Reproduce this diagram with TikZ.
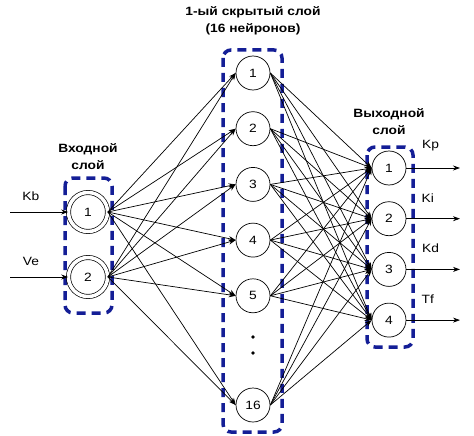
\documentclass[tikz,border=0pt]{standalone}
\usepackage{fontspec}
\setmainfont{Liberation Sans}[FakeStretch=1.15]
\usetikzlibrary{arrows.meta,positioning}
\definecolor{layerblue}{RGB}{20,30,150}

\begin{document}
\begin{tikzpicture}[
    x=1pt, y=-1pt,
    font=\fontsize{12}{14}\selectfont,
    inneuron/.style={circle, draw, double, double distance=3.5pt, minimum size=39pt, inner sep=0pt, line width=0.7pt},
    neuron/.style={circle, draw, minimum size=34pt, inner sep=0pt, line width=0.7pt},
    layerbox/.style={draw=layerblue, line width=3.5pt, dash pattern=on 9pt off 6pt, rounded corners=8pt},
    title/.style={font=\fontsize{12}{17}\selectfont\bfseries, align=center},
    arrow/.style={-{Stealth[length=7pt,width=5pt]}, line width=0.7pt}
]
\useasboundingbox (0,0) rectangle (474,436);

% layer boxes
\draw[layerbox] (65,178) rectangle (112,313);
\draw[layerbox] (223,50) rectangle (282,432);
\draw[layerbox] (367,147) rectangle (413,347);

% titles
\node[title] (tin) at (88,157) {Входной\\слой};
\node[title] (thid) at (253,21) {1-ый скрытый слой\\(16 нейронов)};
\node[title] (tout) at (389,122) {Выходной\\слой};

% input layer
\node[inneuron] (in1) at (88,212) {1};
\node[inneuron] (in2) at (88,277) {2};

% hidden layer
\node[neuron] (h1) at (253,73) {1};
\node[neuron, below=21pt of h1] (h2) {2};
\node[neuron, below=21pt of h2] (h3) {3};
\node[neuron, below=21pt of h3] (h4) {4};
\node[neuron, below=21pt of h4] (h5) {5};
\node[neuron] (h16) at (253,405) {16};
\fill (253,337) circle (1.8pt);
\fill (253,353) circle (1.8pt);

% output layer
\node[neuron] (o1) at (389,168) {1};
\node[neuron, below=16pt of o1] (o2) {2};
\node[neuron, below=16pt of o2] (o3) {3};
\node[neuron, below=16pt of o3] (o4) {4};

% free ends
\coordinate (kb) at (10,212);
\coordinate (ve) at (10,277);
\coordinate (kp) at (460,168);
\coordinate (ki) at (460,|-o2);
\coordinate (kd) at (460,|-o3);
\coordinate (tf) at (460,|-o4);

\draw[arrow] (kb) -- node[above=8pt, pos=0.36] {Kb} (in1.west);
\draw[arrow] (ve) -- node[above=8pt, pos=0.36] {Ve} (in2.west);

\foreach \h in {1,2,3,4,5,16}
  \foreach \n in {1,2}
    \draw[arrow] (in\n.east) -- (h\h.west);

\foreach \h in {1,2,3,4,5,16}
  \foreach \o in {1,2,3,4}
    \draw[arrow] (h\h.east) -- (o\o.west);

\draw[arrow] (o1.east) -- node[above=13pt, pos=0.45] {Kp} (kp);
\draw[arrow] (o2.east) -- node[above=13pt, pos=0.4] {Ki} (ki);
\draw[arrow] (o3.east) -- node[above=13pt, pos=0.45] {Kd} (kd);
\draw[arrow] (o4.east) -- node[above=13pt, pos=0.4] {Tf} (tf);
\end{tikzpicture}
\end{document}
